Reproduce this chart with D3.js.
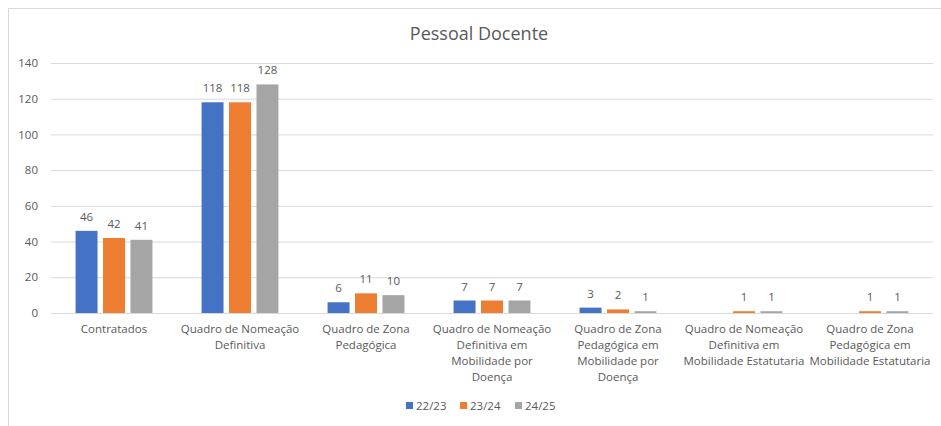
<!DOCTYPE html>
<html>
<head>
<meta charset="utf-8">
<script src="https://cdn.jsdelivr.net/npm/d3@7"></script>
<style>
  body { margin: 0; background: #fff; }
  svg { display: block; }
</style>
</head>
<body>
<svg id="chart" width="941" height="426"></svg>
<script>
// chart data
const categories = [
    "Contratados",
    "Quadro de Nomeação|Definitiva",
    "Quadro de Zona|Pedagógica",
    "Quadro de Nomeação|Definitiva em|Mobilidade por|Doença",
    "Quadro de Zona|Pedagógica em|Mobilidade por|Doença",
    "Quadro de Nomeação|Definitiva em|Mobilidade Estatutaria",
    "Quadro de Zona|Pedagógica em|Mobilidade Estatutaria"
];
const seriesNames = ["22/23", "23/24", "24/25"];
const v2223 = [46, 118, 6, 7, 3, null, null];
const v2324 = [42, 118, 11, 7, 2, 1, 1];
const v2425 = [41, 128, 10, 7, 1, 1, 1];
const yTicks = [0, 20, 40, 60, 80, 100, 120, 140];
const colors = ["#4472C4", "#ED7D31", "#A5A5A5"];

const allValues = [v2223, v2324, v2425];
const font = "'Open Sans', sans-serif";
const txtColor = "#595959";

const svg = d3.select("#chart").style("font-family", font);

// outer frame
svg.append("rect")
    .attr("x", 8.5).attr("y", 8.5)
    .attr("width", 960).attr("height", 440)
    .attr("fill", "none")
    .attr("stroke", "#D9D9D9");

const plot = { left: 51, right: 933, top: 63, bottom: 313 };

const y = d3.scaleLinear()
    .domain([0, 140])
    .range([plot.bottom, plot.top]);

const x0 = d3.scaleBand()
    .domain(categories)
    .range([plot.left, plot.right])
    .paddingInner(0.39)
    .paddingOuter(0.195);

const x1 = d3.scaleBand()
    .domain(seriesNames)
    .range([0, x0.bandwidth()])
    .paddingInner(0.2);

// title
svg.append("text")
    .attr("x", 479).attr("y", 40)
    .attr("text-anchor", "middle")
    .attr("fill", txtColor)
    .style("font-size", "18px")
    .text("Pessoal Docente");

// gridlines + y labels
const yAxis = d3.axisLeft(y)
    .tickValues(yTicks)
    .tickSize(-(plot.right - plot.left))
    .tickPadding(13);

const gy = svg.append("g")
    .attr("transform", `translate(${plot.left},0)`)
    .call(yAxis);
gy.select(".domain").remove();
gy.selectAll(".tick line").attr("stroke", "#D9D9D9");
gy.selectAll(".tick text")
    .attr("fill", txtColor)
    .style("font-family", font)
    .style("font-size", "11.5px");

// bars
const rows = categories.map((c, i) => ({
    cat: c,
    vals: seriesNames.map((s, j) => ({ s: s, j: j, v: allValues[j][i] }))
}));

const group = svg.append("g")
    .selectAll("g")
    .data(rows)
    .join("g")
    .attr("transform", d => `translate(${x0(d.cat)},0)`);

const cells = group.selectAll("g")
    .data(d => d.vals.filter(e => e.v !== null))
    .join("g");

cells.append("rect")
    .attr("x", d => x1(d.s))
    .attr("y", d => y(d.v))
    .attr("width", x1.bandwidth())
    .attr("height", d => Math.max(0, y(0) - y(d.v)))
    .attr("fill", d => colors[d.j]);

cells.append("text")
    .attr("x", d => x1(d.s) + x1.bandwidth() / 2)
    .attr("y", d => y(d.v) - 10)
    .attr("text-anchor", "middle")
    .attr("fill", txtColor)
    .style("font-size", "11.5px")
    .text(d => d.v);

// category labels
const xl = svg.append("g")
    .selectAll("text")
    .data(categories)
    .join("text")
    .attr("x", d => x0(d) + x0.bandwidth() / 2)
    .attr("y", 333)
    .attr("text-anchor", "middle")
    .attr("fill", txtColor)
    .style("font-size", "11.5px");

xl.selectAll("tspan")
    .data(d => d.split("|"))
    .join("tspan")
    .attr("x", function () { return this.parentNode.getAttribute("x"); })
    .attr("dy", (d, i) => i === 0 ? 0 : 16)
    .text(d => d);

// legend
const legendX = [406, 460, 515];
const lg = svg.append("g")
    .selectAll("g")
    .data(seriesNames)
    .join("g")
    .attr("transform", (d, i) => `translate(${legendX[i]},402)`);

lg.append("rect")
    .attr("width", 7).attr("height", 7)
    .attr("fill", (d, i) => colors[i]);

lg.append("text")
    .attr("x", 10).attr("y", 8)
    .attr("fill", txtColor)
    .style("font-size", "11.5px")
    .text(d => d);
</script>
</body>
</html>
